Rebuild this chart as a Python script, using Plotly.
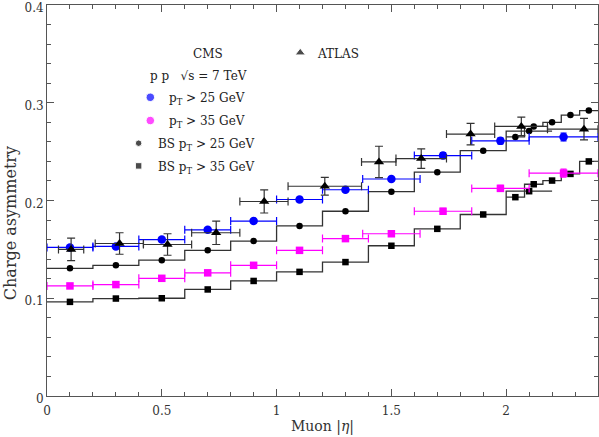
import plotly.graph_objects as go

# CMS data (pT > 25 and pT > 35 GeV), bin centres and half widths
cms_eta = [0.1, 0.3, 0.5, 0.7, 0.9, 1.1, 1.3, 1.5, 1.725, 1.975, 2.25]
cms_halfw = [0.1, 0.1, 0.1, 0.1, 0.1, 0.1, 0.1, 0.125, 0.125, 0.125, 0.15]
cms25 = [0.152, 0.153, 0.160, 0.170, 0.179, 0.201, 0.211, 0.222, 0.246, 0.261, 0.265]
cms35 = [0.1126, 0.114, 0.1204, 0.126, 0.1337, 0.149, 0.161, 0.166, 0.189, 0.2124, 0.228]
cms_err = [0.002, 0.002, 0.002, 0.002, 0.002, 0.002, 0.002, 0.002, 0.003, 0.003, 0.004]

# ATLAS data
atlas_eta = [0.105, 0.316, 0.525, 0.737, 0.946, 1.21, 1.446, 1.63, 1.845, 2.066, 2.339]
atlas_lo = [0.05, 0.21, 0.42, 0.63, 0.84, 1.05, 1.37, 1.52, 1.74, 1.95, 2.18]
atlas_hi = [0.16, 0.42, 0.63, 0.84, 1.05, 1.37, 1.52, 1.74, 1.95, 2.18, 2.40]
atlas_val = [0.150, 0.156, 0.155, 0.167, 0.199, 0.2146, 0.2395, 0.2429, 0.268, 0.2758, 0.273]
atlas_err = [0.0116, 0.011, 0.011, 0.012, 0.0118, 0.009, 0.016, 0.010, 0.011, 0.0095, 0.011]

# BS predictions: coarse bins 0-2.2 and fine bins 2.0-2.4
bs_coarse_edges = [0, 0.2, 0.4, 0.6, 0.8, 1.0, 1.2, 1.4, 1.6, 1.8, 2.0, 2.2]
bs_fine_edges = [2.0, 2.08, 2.16, 2.24, 2.32, 2.4]
bs25_coarse = [0.1306, 0.1337, 0.139, 0.149, 0.1585, 0.174, 0.189, 0.209, 0.229, 0.251, 0.271]
bs25_fine = [0.265, 0.2758, 0.280, 0.2874, 0.292]
bs35_coarse = [0.0963, 0.0997, 0.100, 0.109, 0.1177, 0.127, 0.137, 0.1537, 0.171, 0.1857, 0.2095]
bs35_fine = [0.2034, 0.2166, 0.2204, 0.2272, 0.240]

x_ticks = [0, 0.5, 1, 1.5, 2]
y_ticks = [0, 0.1, 0.2, 0.3, 0.4]

FONT = "DejaVu Serif"
LINE = "#333333"


def centres(edges):
    return [(a + b) / 2 for a, b in zip(edges[:-1], edges[1:])]


fig = go.Figure()

# step histograms + markers for BS predictions
for edges, vals, sym in [
    (bs_coarse_edges, bs25_coarse, "circle"),
    (bs_fine_edges, bs25_fine, "circle"),
    (bs_coarse_edges, bs35_coarse, "square"),
    (bs_fine_edges, bs35_fine, "square"),
]:
    fig.add_trace(go.Scatter(x=edges, y=vals + [vals[-1]], mode="lines",
                             line=dict(color=LINE, width=1.3, shape="hv"),
                             showlegend=False, hoverinfo="skip"))
    fig.add_trace(go.Scatter(x=centres(edges), y=vals, mode="markers",
                             marker=dict(symbol=sym, size=6.5, color="black"),
                             showlegend=False))

# CMS points
for vals, col, sym, sz in [(cms35, "#ff00ff", "square", 7.5), (cms25, "#0000ff", "circle", 8.5)]:
    fig.add_trace(go.Scatter(
        x=cms_eta, y=vals, mode="markers",
        marker=dict(symbol=sym, size=sz, color=col),
        error_x=dict(type="data", array=cms_halfw, color=col, thickness=1.2, width=4),
        error_y=dict(type="data", array=cms_err, color=col, thickness=1.2, width=3),
        showlegend=False))

# ATLAS points
fig.add_trace(go.Scatter(
    x=atlas_eta, y=atlas_val, mode="markers",
    marker=dict(symbol="triangle-up", size=9, color="black"),
    error_x=dict(type="data", symmetric=False,
                 array=[h - c for h, c in zip(atlas_hi, atlas_eta)],
                 arrayminus=[c - l for l, c in zip(atlas_lo, atlas_eta)],
                 color=LINE, thickness=1.2, width=4),
    error_y=dict(type="data", array=atlas_err, color=LINE, thickness=1.2, width=4),
    showlegend=False))

# legend block (drawn on an overlay axis in paper units)
leg_x = [0.4596, 0.1875, 0.1875, 0.1663, 0.1663]
leg_y = [0.878, 0.764, 0.7045, 0.6466, 0.5885]
leg_sym = ["triangle-up", "circle", "circle", "circle", "square"]
leg_col = ["black", "#0000ff", "#ff00ff", "black", "black"]
leg_size = [9, 8.5, 8.5, 6.5, 6.5]
fig.add_trace(go.Scatter(x=leg_x, y=leg_y, xaxis="x2", yaxis="y2", mode="markers",
                         marker=dict(symbol=leg_sym, color=leg_col, size=leg_size),
                         showlegend=False, hoverinfo="skip"))

labels = [
    (0.2915, 0.874, "CMS", "center"),
    (0.4868, 0.874, "ATLAS", "left"),
    (0.1826, 0.818, "p p\u00a0\u00a0\u00a0√s = 7 TeV", "left"),
    (0.2178, 0.760, "p<sub>T</sub> > 25 GeV", "left"),
    (0.2178, 0.700, "p<sub>T</sub> > 35 GeV", "left"),
    (0.1984, 0.642, "BS p<sub>T</sub> > 25 GeV", "left"),
    (0.1984, 0.584, "BS p<sub>T</sub> > 35 GeV", "left"),
]
for x, y, t, anc in labels:
    fig.add_annotation(x=x, y=y, xref="paper", yref="paper", text=t, showarrow=False,
                       xanchor=anc, yanchor="middle", font=dict(family=FONT, size=12, color="#222"))

# y title placed by hand (it sits low and close to the edge in the original)
fig.add_annotation(x=-0.066, y=0.441, xref="paper", yref="paper", text="Charge asymmetry",
                   textangle=-90, showarrow=False, xanchor="center", yanchor="middle",
                   font=dict(family=FONT, size=16, color="#333"))

axis_common = dict(showline=True, linecolor="#555", linewidth=1, mirror="allticks",
                   ticks="inside", ticklen=7, tickcolor="#555", showgrid=False,
                   zeroline=False, automargin=False, tickmode="array",
                   ticklabeloverflow="allow",
                   tickfont=dict(family=FONT, size=12, color="#333"))

fig.update_layout(
    width=599, height=437,
    margin=dict(l=47, r=1, t=5, b=41),
    plot_bgcolor="white", paper_bgcolor="white",
    font=dict(family=FONT, color="#333"),
    xaxis=dict(range=[0, 2.4], tickvals=x_ticks, ticktext=[str(v) for v in x_ticks],
               minor=dict(dtick=0.1, tick0=0, ticklen=4, ticks="inside", tickcolor="#555"),
               ticklabelstandoff=4,
               title=dict(text="Muon |<i>η</i>|", font=dict(family=FONT, size=14), standoff=3),
               **axis_common),
    yaxis=dict(range=[0, 0.4], tickvals=y_ticks, ticktext=[str(v) for v in y_ticks],
               minor=dict(dtick=0.02, tick0=0, ticklen=4, ticks="inside", tickcolor="#555"),
               ticklabelshift=3,
               **axis_common),
    xaxis2=dict(overlaying="x", range=[0, 1], visible=False),
    yaxis2=dict(overlaying="y", range=[0, 1], visible=False),
)

# drop the browser's default 8px body margin so the figure fills the window
fig.write_html("out.html", config={"displayModeBar": False},
               post_script="document.body.style.margin = '0';")
